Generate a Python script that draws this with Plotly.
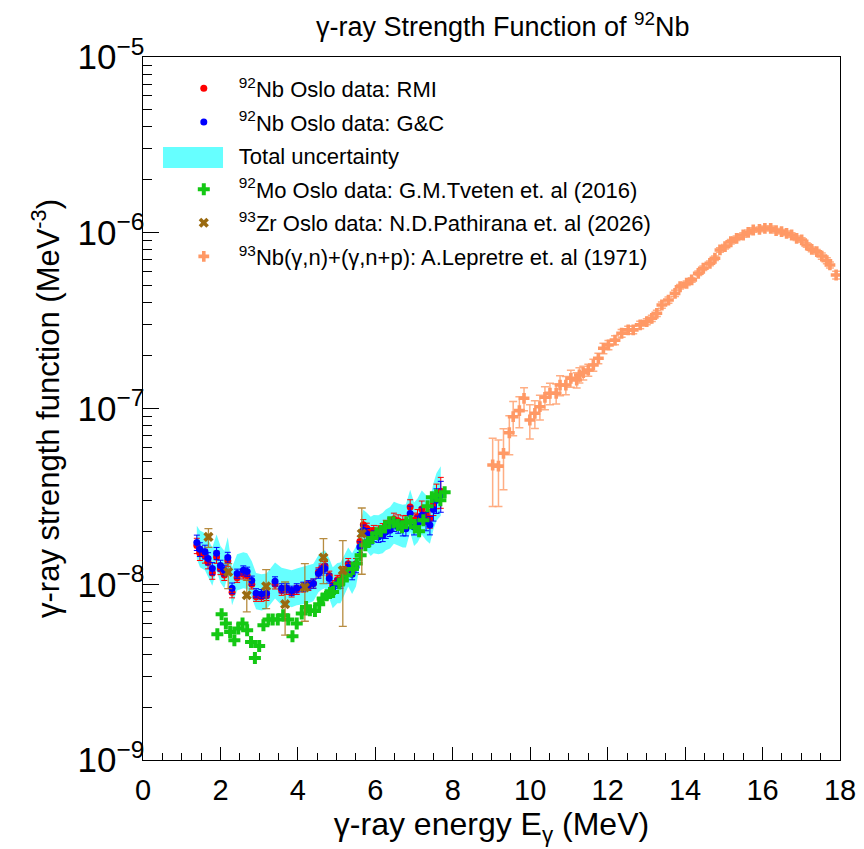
import numpy as np
import plotly.graph_objects as go

# 92Nb Oslo data (values in units of 1e-8 MeV^-3)
e_oslo = [1.39, 1.47, 1.60, 1.68, 1.79, 1.90, 2.00, 2.10, 2.19, 2.30,
          2.43, 2.59, 2.69, 2.81, 2.92, 3.06, 3.19, 3.41, 3.58, 3.71,
          3.84, 3.97, 4.14, 4.27, 4.40, 4.53, 4.61, 4.70, 4.81, 4.90,
          5.02, 5.10, 5.20, 5.30, 5.40, 5.50, 5.60, 5.69, 5.78, 5.88,
          5.96, 6.08, 6.19, 6.27, 6.38, 6.48, 6.59, 6.71, 6.79, 6.90,
          7.00, 7.09, 7.20, 7.31, 7.41, 7.50, 7.58, 7.69]
rmi = [1.66, 1.50, 1.45, 1.33, 1.16, 1.43, 1.22, 1.13, 1.36, 0.90,
       1.09, 1.14, 1.12, 1.00, 0.85, 0.85, 0.86, 1.00, 0.92, 0.93,
       0.90, 0.93, 0.96, 0.98, 1.01, 1.17, 1.23, 1.27, 1.12, 0.99,
       1.06, 1.06, 1.19, 1.31, 1.20, 1.31, 1.75, 2.18, 2.08, 1.96,
       2.02, 2.01, 2.05, 2.14, 2.20, 2.35, 2.30, 2.25, 2.26, 2.75,
       2.31, 2.42, 2.68, 2.49, 2.37, 2.86, 3.20, 3.38]
gc = [1.73, 1.58, 1.53, 1.40, 1.23, 1.50, 1.28, 1.20, 1.42, 0.95,
      1.15, 1.20, 1.18, 1.05, 0.89, 0.88, 0.89, 1.04, 0.95, 0.95,
      0.92, 0.95, 0.97, 0.99, 1.01, 1.15, 1.20, 1.23, 1.08, 0.95,
      1.01, 1.01, 1.13, 1.25, 1.14, 1.25, 1.63, 2.03, 1.94, 1.82,
      1.88, 1.86, 1.90, 1.98, 2.03, 2.17, 2.12, 2.07, 2.07, 2.53,
      2.12, 2.22, 2.47, 2.29, 2.17, 2.66, 3.01, 3.21]
oslo_rel_err = [0.10, 0.09, 0.09, 0.08, 0.08, 0.08, 0.07, 0.07, 0.07, 0.07,
                0.06, 0.06, 0.06, 0.06, 0.06, 0.06, 0.06, 0.06, 0.06, 0.06,
                0.06, 0.06, 0.06, 0.06, 0.06, 0.06, 0.06, 0.06, 0.06, 0.06,
                0.06, 0.06, 0.06, 0.07, 0.07, 0.07, 0.07, 0.07, 0.07, 0.07,
                0.07, 0.07, 0.08, 0.08, 0.08, 0.08, 0.08, 0.09, 0.09, 0.10,
                0.10, 0.10, 0.11, 0.12, 0.12, 0.14, 0.16, 0.20]
band_hi = [2.15, 2.02, 1.95, 1.80, 1.62, 1.92, 1.65, 1.55, 1.85, 1.25,
           1.48, 1.52, 1.50, 1.35, 1.16, 1.14, 1.15, 1.33, 1.24, 1.22,
           1.20, 1.23, 1.26, 1.28, 1.31, 1.46, 1.52, 1.56, 1.40, 1.25,
           1.32, 1.33, 1.48, 1.62, 1.50, 1.64, 2.12, 2.65, 2.55, 2.42,
           2.48, 2.47, 2.55, 2.66, 2.75, 2.95, 2.88, 2.83, 2.85, 3.45,
           2.92, 3.08, 3.42, 3.20, 3.05, 3.75, 4.30, 4.70]
band_lo = [1.40, 1.25, 1.20, 1.10, 0.98, 1.20, 1.02, 0.95, 1.12, 0.76,
           0.92, 0.95, 0.94, 0.84, 0.72, 0.71, 0.72, 0.83, 0.76, 0.76,
           0.74, 0.76, 0.77, 0.78, 0.80, 0.90, 0.93, 0.95, 0.83, 0.73,
           0.78, 0.78, 0.87, 0.97, 0.88, 0.97, 1.28, 1.62, 1.55, 1.45,
           1.50, 1.48, 1.50, 1.56, 1.60, 1.70, 1.66, 1.62, 1.62, 1.98,
           1.65, 1.73, 1.92, 1.78, 1.70, 2.05, 2.30, 2.45]

# 92Mo Oslo data, Tveten et al. (units of 1e-8)
e_mo = [1.92, 2.03, 2.14, 2.25, 2.36, 2.46, 2.57, 2.69, 2.79, 2.89,
        3.00, 3.11, 3.24, 3.35, 3.48, 3.62, 3.75, 3.86, 3.97, 4.10,
        4.21, 4.31, 4.44, 4.55, 4.64, 4.74, 4.83, 4.91, 5.07, 5.16,
        5.26, 5.42, 5.52, 5.62, 5.74, 5.82, 5.92, 6.03, 6.14, 6.25,
        6.36, 6.47, 6.58, 6.69, 6.80, 6.91, 7.02, 7.13, 7.24, 7.35,
        7.46, 7.57, 7.68, 7.79]
mo = [0.519, 0.675, 0.598, 0.535, 0.480, 0.560, 0.598, 0.547, 0.469, 0.381,
      0.446, 0.584, 0.630, 0.630, 0.630, 0.666, 0.630, 0.506, 0.598, 0.681,
      0.743, 0.711, 0.705, 0.770, 0.829, 0.866, 0.892, 0.904, 1.009, 1.050,
      1.125, 1.220, 1.311, 1.462, 1.667, 1.741, 1.83, 1.95, 2.00, 2.11,
      2.25, 2.25, 2.17, 2.11, 2.25, 2.29, 2.11, 2.00, 2.31, 2.78,
      3.13, 3.21, 3.01, 3.34]

# 93Zr Oslo data, Pathirana et al. (units of 1e-8)
e_zr = [1.69, 2.20, 2.68, 3.18, 3.67, 4.18, 4.66, 5.16, 5.65]
zr = [1.86, 1.175, 0.866, 0.974, 0.770, 0.960, 1.419, 1.200, 1.943]
zr_hi = [2.07, 1.311, 1.054, 1.212, 1.030, 1.311, 1.820, 1.773, 2.716]
zr_lo = [1.62, 0.945, 0.696, 0.727, 0.513, 0.616, 1.009, 0.576, 1.140]

# 93Nb(g,n)+(g,n+p), Lepretre et al. (units of 1e-7)
e_nb = [9.03, 9.18, 9.31, 9.46, 9.56, 9.72, 9.84, 9.99, 10.12, 10.25,
        10.38, 10.51, 10.67, 10.77, 10.92, 11.05, 11.20, 11.27, 11.37, 11.50,
        11.63, 11.76, 11.89, 12.02, 12.19, 12.36, 12.53, 12.66, 12.84, 13.01,
        13.14, 13.27, 13.40, 13.57, 13.74, 13.87, 14.04, 14.17, 14.34, 14.47,
        14.64, 14.77, 14.90, 15.03, 15.18, 15.33, 15.50, 15.63, 15.76, 15.92,
        16.06, 16.21, 16.35, 16.49, 16.62, 16.75, 16.88, 17.01, 17.14, 17.27,
        17.40, 17.53, 17.66, 17.74, 17.90]
nb = [0.477, 0.470, 0.556, 0.728, 0.898, 0.972, 1.143, 0.860, 0.939, 1.024,
      1.158, 1.221, 1.221, 1.360, 1.360, 1.485, 1.452, 1.551, 1.598, 1.656,
      1.768, 1.930, 2.20, 2.30, 2.45, 2.68, 2.80, 2.80, 2.99, 3.12,
      3.26, 3.48, 3.88, 4.14, 4.52, 4.93, 5.16, 5.39, 5.88, 6.28,
      6.70, 7.16, 7.98, 8.33, 8.89, 9.30, 9.71, 10.06, 10.37, 10.46,
      10.60, 10.60, 10.27, 10.14, 9.93, 9.71, 9.30, 9.10, 8.52, 8.05,
      7.80, 7.37, 6.93, 6.56, 5.75]
nb_rel_err = [0.42, 0.41, 0.38, 0.25, 0.22, 0.20, 0.15, 0.22, 0.18, 0.16,
              0.15, 0.14, 0.13, 0.13, 0.12, 0.11, 0.10, 0.10, 0.09, 0.08,
              0.08, 0.07, 0.07, 0.06, 0.06, 0.05, 0.05, 0.05, 0.05, 0.04,
              0.04, 0.04, 0.04, 0.04, 0.04, 0.03, 0.03, 0.03, 0.03, 0.03,
              0.03, 0.03, 0.03, 0.03, 0.03, 0.03, 0.03, 0.03, 0.03, 0.03,
              0.03, 0.03, 0.03, 0.03, 0.03, 0.03, 0.03, 0.03, 0.03, 0.03,
              0.03, 0.04, 0.04, 0.04, 0.05]

U8 = 1e-8
U7 = 1e-7
FONT = "Liberation Sans, Arial, Helvetica, sans-serif"
BAND = "#66ffff"

rmi_y = np.array(rmi) * U8
gc_y = np.array(gc) * U8
mo_y = np.array(mo) * U8
zr_y = np.array(zr) * U8
nb_y = np.array(nb) * U7

fig = go.Figure()

# total uncertainty band (drawn), legend entry handled by a dummy trace + box
fig.add_trace(go.Scatter(
    x=e_oslo + e_oslo[::-1],
    y=list(np.array(band_hi) * U8) + list(np.array(band_lo[::-1]) * U8),
    fill="toself", fillcolor=BAND, mode="lines", line=dict(width=0, color=BAND),
    showlegend=False, hoverinfo="skip",
))
fig.add_trace(go.Scatter(
    x=[None], y=[None], mode="lines", fill="toself", fillcolor="rgba(0,0,0,0)",
    line=dict(width=0, color="rgba(0,0,0,0)"),
    name="Total uncertainty", legendrank=3, legendgroup="c",
))

fig.add_trace(go.Scatter(
    x=e_oslo, y=rmi_y, mode="markers", name="<sup>92</sup>Nb Oslo data: RMI",
    marker=dict(symbol="circle", size=7, color="#ff0000"),
    error_y=dict(type="data", array=rmi_y * np.array(oslo_rel_err), color="#ff0000",
                 thickness=1, width=3),
    legendrank=1, legendgroup="a",
))
fig.add_trace(go.Scatter(
    x=e_oslo, y=gc_y, mode="markers", name="<sup>92</sup>Nb Oslo data: G&C",
    marker=dict(symbol="circle", size=7, color="#0000ff"),
    error_y=dict(type="data", array=gc_y * np.array(oslo_rel_err), color="#0000ff",
                 thickness=1, width=3),
    legendrank=2, legendgroup="b",
))
fig.add_trace(go.Scatter(
    x=e_mo, y=mo_y, mode="markers",
    name="<sup>92</sup>Mo Oslo data: G.M.Tveten et. al (2016)",
    marker=dict(symbol="cross", size=10, color="#14c814"),
    legendrank=4, legendgroup="d",
))
fig.add_trace(go.Scatter(
    x=e_zr, y=zr_y, mode="markers",
    name="<sup>93</sup>Zr Oslo data: N.D.Pathirana et. al (2026)",
    marker=dict(symbol="x", size=9, color="#9a6a10"),
    error_y=dict(type="data", symmetric=False,
                 array=np.array(zr_hi) * U8 - zr_y,
                 arrayminus=zr_y - np.array(zr_lo) * U8,
                 color="rgba(170,120,30,0.85)", thickness=1.3, width=4),
    legendrank=5, legendgroup="e",
))
fig.add_trace(go.Scatter(
    x=e_nb, y=nb_y, mode="markers",
    name="<sup>93</sup>Nb(γ,n)+(γ,n+p): A.Lepretre et. al (1971)",
    marker=dict(symbol="cross", size=9, color="#ff9966"),
    error_y=dict(type="data", array=nb_y * np.array(nb_rel_err), color="rgba(255,160,110,0.85)",
                 thickness=1.5, width=4),
    legendrank=6, legendgroup="f",
))

# cyan box used as the legend symbol of the band
fig.add_shape(type="rect", xref="paper", yref="paper",
              x0=0.0287, x1=0.1148, y0=0.842, y1=0.872,
              fillcolor=BAND, line=dict(width=0), layer="above")

fig.update_layout(
    width=856, height=841,
    margin=dict(l=135, r=24, t=49, b=89),
    paper_bgcolor="white", plot_bgcolor="white",
    font=dict(family=FONT, color="black"),
    title=dict(text="γ-ray Strength Function of <sup>92</sup>Nb",
               x=0.578, xanchor="center", y=0.978, yanchor="middle",
               font=dict(size=27)),
    showlegend=True,
    legend=dict(x=0.037, y=0.985, xanchor="left", yanchor="top",
                bgcolor="rgba(0,0,0,0)", font=dict(size=22),
                itemwidth=60, tracegroupgap=2),
)
fig.update_xaxes(
    range=[0, 18], dtick=2, tick0=0,
    ticks="inside", ticklen=13, tickcolor="black",
    minor=dict(dtick=0.5, ticks="inside", ticklen=7, tickcolor="black"),
    showline=True, linecolor="black", linewidth=1, mirror=True,
    showgrid=False, zeroline=False, automargin=False,
    tickfont=dict(size=29), ticklabelstandoff=4,
    title=dict(text="γ-ray energy E<sub>γ</sub> (MeV)", font=dict(size=32), standoff=4),
)
fig.update_yaxes(
    type="log", range=[-9, -5], dtick=1,
    exponentformat="power", showexponent="all",
    ticks="inside", ticklen=16, tickcolor="black",
    minor=dict(dtick="D1", ticks="inside", ticklen=9, tickcolor="black"),
    showline=True, linecolor="black", linewidth=1, mirror=True,
    showgrid=False, zeroline=False, automargin=False,
    tickfont=dict(size=28), ticklabelstandoff=-8,
    title=dict(text="γ-ray strength function (MeV<sup>-3</sup>)", font=dict(size=31), standoff=8),
)

fig.write_html("out.html")
